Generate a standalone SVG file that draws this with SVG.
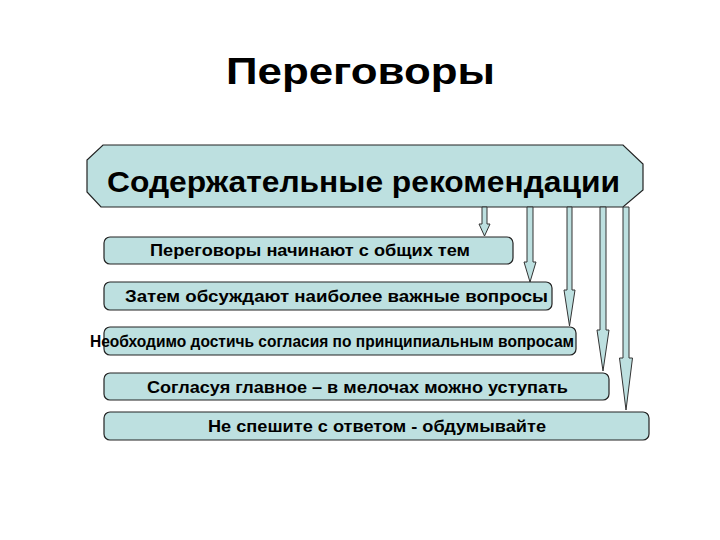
<svg xmlns="http://www.w3.org/2000/svg" width="720" height="540" viewBox="0 0 720 540">
<style>
.shape{fill:#bde0e0;stroke:#222;stroke-width:1.2}
.arr{fill:#bde0e0;stroke:#333;stroke-width:1}
.t{font-family:"Liberation Sans",Arial,sans-serif;font-weight:bold;fill:#000}
.bt{font-size:16.5px}
</style>
<rect width="720" height="540" fill="#fff"/>
<text class="t" x="226" y="84" font-size="37" textLength="269" lengthAdjust="spacingAndGlyphs">Переговоры</text>
<g id="header">
<polygon class="shape" points="103,145 623,145 643,164 643,190 623,207 101,207 87,192 87,160"/>
<text class="t" x="107" y="192" font-size="30" textLength="513" lengthAdjust="spacingAndGlyphs">Содержательные рекомендации</text>
</g>
<g id="connectors">
<path class="arr" d="M482,207 L487,207 L487,224 L490,224 L484.5,236 L479,224 L482,224 Z"/>
<path class="arr" d="M527,207 L533,207 L533,262 L536,262 L530,282 L524,262 L527,262 Z"/>
<path class="arr" d="M567,207 L572,207 L572,290 L575,290 L569.5,326 L564,290 L567,290 Z"/>
<path class="arr" d="M600,207 L606,207 L606,330 L609,330 L603,371 L597,330 L600,330 Z"/>
<path class="arr" d="M623,207 L629,207 L629,358 L632.5,358 L626,410 L619.5,358 L623,358 Z"/>
</g>
<g id="box1">
<rect class="shape" x="104" y="237" width="409" height="27" rx="6"/>
<text class="t bt" x="150" y="256" textLength="320" lengthAdjust="spacingAndGlyphs">Переговоры начинают с общих тем</text>
</g>
<g id="box2">
<rect class="shape" x="104" y="282" width="448" height="28" rx="6"/>
<text class="t bt" x="125" y="302" textLength="423" lengthAdjust="spacingAndGlyphs">Затем обсуждают наиболее важные вопросы</text>
</g>
<g id="box3">
<rect class="shape" x="104" y="327" width="472" height="28" rx="6"/>
<text class="t bt" x="90" y="347" textLength="484" lengthAdjust="spacingAndGlyphs">Необходимо достичь согласия по принципиальным вопросам</text>
</g>
<g id="box4">
<rect class="shape" x="104" y="373" width="505" height="27" rx="6"/>
<text class="t bt" x="147" y="393" textLength="421" lengthAdjust="spacingAndGlyphs">Согласуя главное – в мелочах можно уступать</text>
</g>
<g id="box5">
<rect class="shape" x="104" y="412" width="545" height="28" rx="6"/>
<text class="t bt" x="208" y="432" textLength="338" lengthAdjust="spacingAndGlyphs">Не спешите с ответом - обдумывайте</text>
</g>
</svg>
